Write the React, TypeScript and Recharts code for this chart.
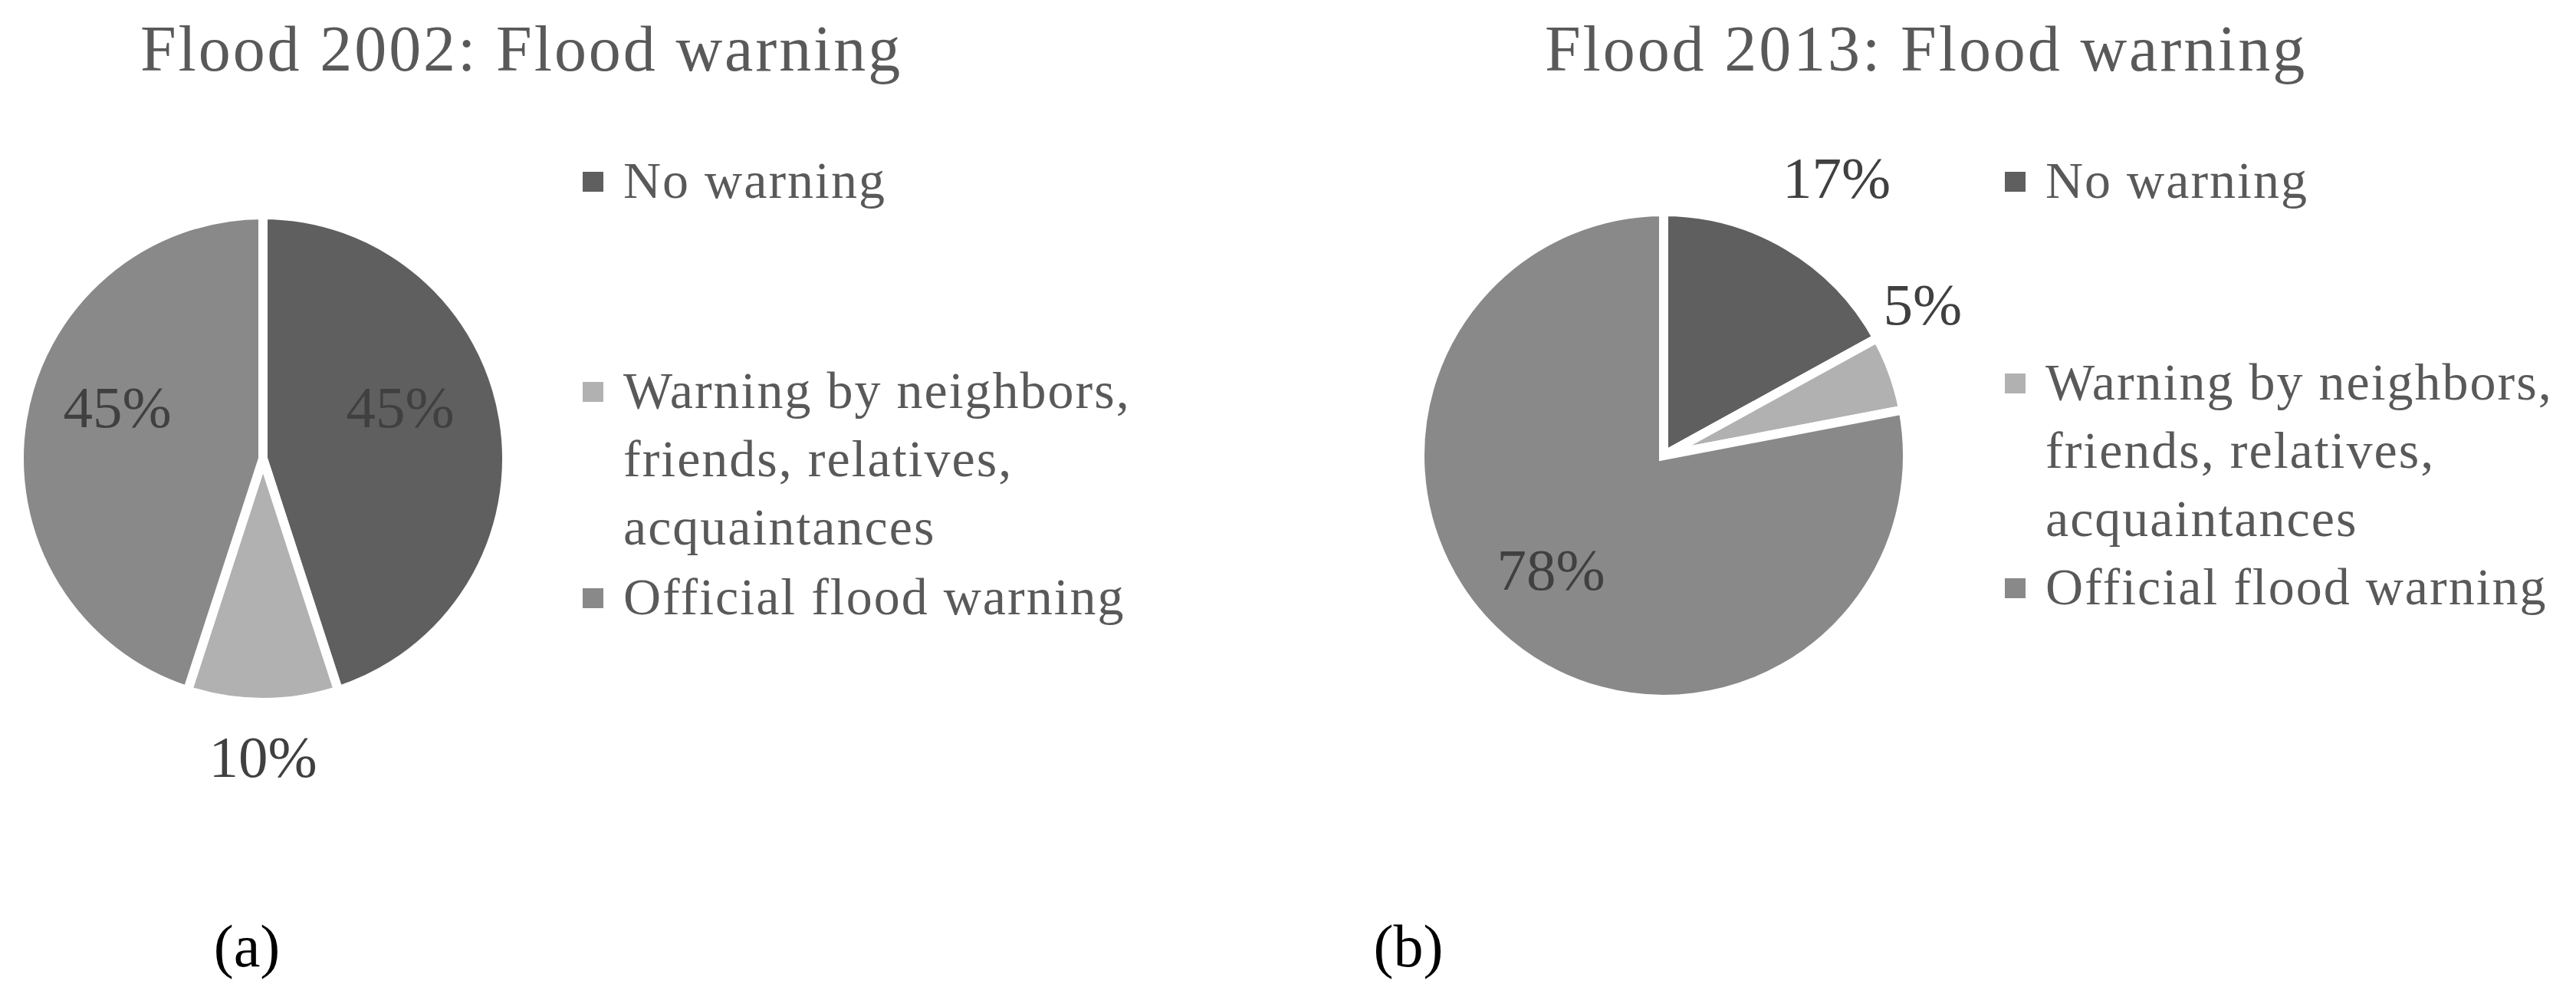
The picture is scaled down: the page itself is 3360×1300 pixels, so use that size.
import React from 'react';
import { PieChart, Pie, Cell, Legend } from 'recharts';

const categories = [
  'No warning',
  'Warning by neighbors, friends, relatives, acquaintances',
  'Official flood warning',
];
const values2002 = [45, 10, 45];
const values2013 = [17, 5, 78];
const titles = ['Flood 2002: Flood warning', 'Flood 2013: Flood warning'];
const panelLabels = ['(a)', '(b)'];

const sliceColors = ['#5f5f5f', '#b1b1b1', '#898989'];
const FONT = '"Liberation Serif", "Times New Roman", serif';
const STROKE = 12;
const LABEL_SIZE = 77;

type Placement = { f: number; adj: number };
type PanelStyle = {
  left: number;
  width: number;
  cx: number;
  cy: number;
  radius: number;
  titleCenter: number;
  titleBaseline: number;
  legendLeft: number;
  legendTop: number;
  legendBaselines: number[];
  labelPlacement: Placement[];
  panelLabelCenter: number;
};

const panels: PanelStyle[] = [
  {
    left: 0,
    width: 1690,
    cx: 343,
    cy: 598,
    radius: 312,
    titleCenter: 680,
    titleBaseline: 92,
    legendLeft: 760,
    legendTop: 180,
    legendBaselines: [258, 532, 801],
    labelPlacement: [
      { f: 0.612, adj: -11.2 },
      { f: 1.25, adj: 0 },
      { f: 0.645, adj: 10.2 },
    ],
    panelLabelCenter: 322,
  },
  {
    left: 1690,
    width: 1690,
    cx: 2170,
    cy: 594,
    radius: 312,
    titleCenter: 2512,
    titleBaseline: 92,
    legendLeft: 2615,
    legendTop: 180,
    legendBaselines: [258, 521, 788],
    labelPlacement: [
      { f: 1.365, adj: 1.4 },
      { f: 1.253, adj: -10.4 },
      { f: 0.673, adj: 4.8 },
    ],
    panelLabelCenter: 1837,
  },
];

const makeLabel = (placement: Placement[]) => (props: any) => {
  const { cx, cy, midAngle, outerRadius, percent, index } = props;
  const p = placement[index];
  const R = outerRadius - STROKE / 2;
  const theta = ((90 - midAngle + p.adj) * Math.PI) / 180;
  const x = cx + p.f * R * Math.sin(theta);
  const y = cy - p.f * R * Math.cos(theta);
  return (
    <text
      x={x}
      y={y + 0.33 * LABEL_SIZE}
      textAnchor="middle"
      fontFamily={FONT}
      fontSize={LABEL_SIZE}
      fill="#404040"
    >
      {`${Math.round(percent * 100)}%`}
    </text>
  );
};

const makeLegend = (ps: PanelStyle) => (props: any) => {
  const payload: any[] = props.payload || [];
  return (
    <div style={{ position: 'relative', width: 820, height: 700 }}>
      {payload.map((entry: any, i: number) => {
        const idx = categories.indexOf(entry.value);
        const k = idx >= 0 ? idx : i;
        const b = ps.legendBaselines[k] - ps.legendTop;
        return (
          <div
            key={k}
            style={{ position: 'absolute', left: 0, top: b - 67, display: 'flex', alignItems: 'flex-start' }}
          >
            <div
              style={{
                width: 27,
                height: 26,
                background: sliceColors[k],
                marginTop: 33,
                marginRight: 26,
                flex: 'none',
              }}
            />
            <div
              style={{
                width: 740,
                fontFamily: FONT,
                fontSize: 68,
                lineHeight: '89px',
                letterSpacing: 2,
                color: '#595959',
                textAlign: 'left',
              }}
            >
              {entry.value}
            </div>
          </div>
        );
      })}
    </div>
  );
};

const Panel = ({ ps, values }: { ps: PanelStyle; values: number[] }) => {
  const data = categories.map((name, i) => ({ name, value: values[i] }));
  return (
    <div style={{ position: 'absolute', left: ps.left, top: 0 }}>
      <PieChart width={ps.width} height={1300} margin={{ top: 0, right: 0, bottom: 0, left: 0 }}>
        <Pie
          data={data}
          dataKey="value"
          nameKey="name"
          cx={ps.cx - ps.left}
          cy={ps.cy}
          outerRadius={ps.radius + STROKE / 2}
          startAngle={90}
          endAngle={-270}
          stroke="#ffffff"
          strokeWidth={STROKE}
          label={makeLabel(ps.labelPlacement)}
          labelLine={false}
          isAnimationActive={false}
        >
          {data.map((d, i) => (
            <Cell key={d.name} fill={sliceColors[i]} />
          ))}
        </Pie>
        <Legend
          layout="vertical"
          align="right"
          verticalAlign="top"
          content={makeLegend(ps)}
          wrapperStyle={{
            left: ps.legendLeft - ps.left,
            right: 'auto',
            top: ps.legendTop,
            width: 820,
            height: 700,
          }}
        />
      </PieChart>
    </div>
  );
};

export default function App() {
  return (
    <div
      style={{
        position: 'absolute',
        left: 0,
        top: 0,
        width: 3360,
        height: 1300,
        overflow: 'hidden',
        background: '#ffffff',
      }}
    >
      <Panel ps={panels[0]} values={values2002} />
      <Panel ps={panels[1]} values={values2013} />
      <svg
        width={3360}
        height={1300}
        style={{ position: 'absolute', left: 0, top: 0, pointerEvents: 'none' }}
      >
        {panels.map((ps, i) => (
          <g key={i}>
            <text
              x={ps.titleCenter}
              y={ps.titleBaseline}
              textAnchor="middle"
              fontFamily={FONT}
              fontSize={84}
              letterSpacing={2.9}
              fill="#595959"
            >
              {titles[i]}
            </text>
            <text
              x={ps.panelLabelCenter}
              y={1260}
              textAnchor="middle"
              fontFamily={FONT}
              fontSize={78}
              fill="#000000"
            >
              {panelLabels[i]}
            </text>
          </g>
        ))}
      </svg>
    </div>
  );
}
